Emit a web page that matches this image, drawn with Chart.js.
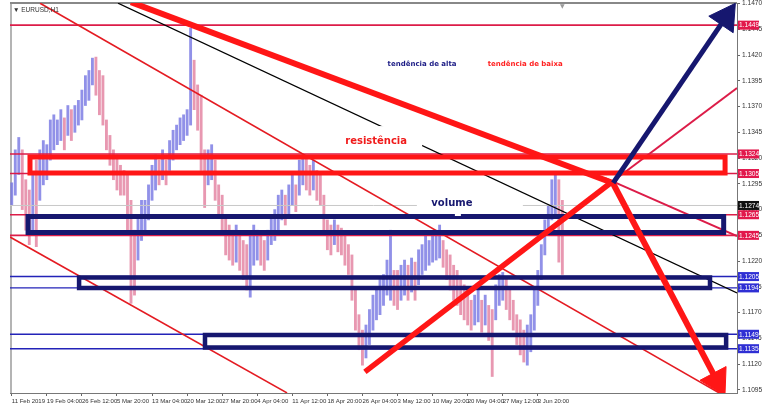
<!DOCTYPE html>
<html>
<head>
<meta charset="utf-8">
<script src="https://cdn.jsdelivr.net/npm/chart.js"></script>
<style>
  html, body { margin: 0; padding: 0; background: #fff; }
  #wrap { position: relative; width: 772px; height: 414px; }
</style>
</head>
<body>
<div id="wrap"><canvas id="chart"></canvas></div>
<script>
// x axis: one slot per ~half trading day, a date label every 10 slots
const xTickIdx = [0, 10, 20, 30, 40, 50, 60, 70, 80, 90, 100, 110, 120, 130, 140, 150];
const xLabels = ['11 Feb 2019', '19 Feb 04:00', '26 Feb 12:00', '5 Mar 20:00', '13 Mar 04:00',
  '20 Mar 12:00', '27 Mar 20:00', '4 Apr 04:00', '11 Apr 12:00', '18 Apr 20:00', '26 Apr 04:00',
  '3 May 12:00', '10 May 20:00', '20 May 04:00', '27 May 12:00', '3 Jun 20:00'];
const yTicks = [1.1095, 1.1120, 1.1145, 1.1170, 1.1195, 1.1220, 1.1245, 1.1270, 1.1295,
  1.1320, 1.1345, 1.1370, 1.1395, 1.1420, 1.1445, 1.1470];

// EURUSD H1, high / low per slot
const highs = [1.1296, 1.1328, 1.1340, 1.1328, 1.1299, 1.1289, 1.1304, 1.1318, 1.1328, 1.1337,
  1.1333, 1.1357, 1.1362, 1.1357, 1.1367, 1.1359, 1.1371, 1.1367, 1.1371, 1.1376,
  1.1386, 1.1400, 1.1405, 1.1417, 1.1418, 1.1405, 1.1400, 1.1357, 1.1342, 1.1328,
  1.1323, 1.1313, 1.1308, 1.1304, 1.1279, 1.1250, 1.1265, 1.1279, 1.1279, 1.1294,
  1.1313, 1.1323, 1.1318, 1.1328, 1.1318, 1.1337, 1.1347, 1.1352, 1.1359, 1.1362,
  1.1367, 1.1446, 1.1415, 1.1391, 1.1381, 1.1328, 1.1328, 1.1333, 1.1318, 1.1294,
  1.1284, 1.1265, 1.1255, 1.1250, 1.1255, 1.1245, 1.1240, 1.1236, 1.1245, 1.1255,
  1.1250, 1.1245, 1.1240, 1.1250, 1.1265, 1.1270, 1.1284, 1.1289, 1.1284, 1.1294,
  1.1304, 1.1294, 1.1318, 1.1323, 1.1321, 1.1313, 1.1318, 1.1308, 1.1304, 1.1284,
  1.1260, 1.1255, 1.1260, 1.1255, 1.1252, 1.1245, 1.1236, 1.1226, 1.1192, 1.1168,
  1.1153, 1.1158, 1.1173, 1.1187, 1.1192, 1.1202, 1.1207, 1.1221, 1.1250, 1.1211,
  1.1211, 1.1216, 1.1221, 1.1216, 1.1223, 1.1219, 1.1231, 1.1236, 1.1245, 1.1240,
  1.1245, 1.1250, 1.1255, 1.1240, 1.1231, 1.1226, 1.1216, 1.1211, 1.1202, 1.1197,
  1.1192, 1.1182, 1.1187, 1.1192, 1.1182, 1.1187, 1.1177, 1.1173, 1.1197, 1.1207,
  1.1209, 1.1203, 1.1192, 1.1182, 1.1168, 1.1163, 1.1153, 1.1158, 1.1168, 1.1192,
  1.1211, 1.1236, 1.1260, 1.1274, 1.1299, 1.1306, 1.1299, 1.1279];
const lows = [1.1274, 1.1284, 1.1304, 1.1270, 1.1250, 1.1236, 1.1250, 1.1234, 1.1279, 1.1294,
  1.1299, 1.1318, 1.1328, 1.1333, 1.1337, 1.1328, 1.1342, 1.1337, 1.1345, 1.1352,
  1.1357, 1.1371, 1.1376, 1.1391, 1.1381, 1.1362, 1.1352, 1.1328, 1.1313, 1.1299,
  1.1289, 1.1284, 1.1284, 1.1250, 1.1179, 1.1187, 1.1221, 1.1240, 1.1245, 1.1260,
  1.1279, 1.1289, 1.1294, 1.1299, 1.1294, 1.1308, 1.1318, 1.1328, 1.1333, 1.1337,
  1.1342, 1.1352, 1.1367, 1.1347, 1.1308, 1.1272, 1.1294, 1.1299, 1.1279, 1.1265,
  1.1245, 1.1226, 1.1221, 1.1216, 1.1219, 1.1211, 1.1202, 1.1192, 1.1185, 1.1216,
  1.1221, 1.1216, 1.1211, 1.1221, 1.1236, 1.1240, 1.1250, 1.1260, 1.1255, 1.1265,
  1.1274, 1.1268, 1.1284, 1.1294, 1.1289, 1.1284, 1.1289, 1.1279, 1.1274, 1.1245,
  1.1231, 1.1226, 1.1236, 1.1229, 1.1226, 1.1216, 1.1207, 1.1182, 1.1153, 1.1134,
  1.1119, 1.1126, 1.1139, 1.1153, 1.1163, 1.1168, 1.1177, 1.1187, 1.1182, 1.1177,
  1.1173, 1.1182, 1.1187, 1.1182, 1.1190, 1.1182, 1.1197, 1.1207, 1.1211, 1.1216,
  1.1219, 1.1221, 1.1223, 1.1214, 1.1202, 1.1192, 1.1182, 1.1177, 1.1168, 1.1163,
  1.1158, 1.1153, 1.1158, 1.1161, 1.1151, 1.1158, 1.1143, 1.1108, 1.1163, 1.1177,
  1.1182, 1.1173, 1.1163, 1.1153, 1.1139, 1.1129, 1.1122, 1.1119, 1.1132, 1.1153,
  1.1177, 1.1202, 1.1226, 1.1245, 1.1260, 1.1265, 1.1219, 1.1207];

// horizontal levels and last price
const redLevels = [1.1449, 1.1324, 1.1305, 1.1265, 1.1245];
const blueLevels = [1.1205, 1.1194, 1.1149, 1.1135];
const lastPrice = 1.1274;

// zones: [fromSlot, toSlot, top, bottom]
const resistZone = [5.2, 203.4, 1.1321, 1.13055];
const volumeZone = [4.65, 203.0, 1.12633, 1.12477];
const zoneMid = [19.2, 199.1, 1.1204, 1.1194];
const zoneLow = [55.1, 203.7, 1.11483, 1.11362];

// trend lines: [slot1, price1, slot2, price2]
const channelLow = [-0.5, 1.12434, 78.5, 1.10921];
const channelHigh = [8.07, 1.14703, 201.7, 1.10921];
const blackTrend = [30.3, 1.14703, 206.8, 1.11891];
const downTrend = [34.0, 1.14713, 171.2, 1.1296];
const downArrow = [171.2, 1.1297, 201.1, 1.11037];
const upTrend = [100.7, 1.11125, 171.2, 1.1297];
const upTrendExt = [171.2, 1.1297, 206.8, 1.13879];
const upArrow = [171.5, 1.1296, 203.6, 1.14565];
const fadeLine = [169.2, 1.13006, 206.8, 1.12444];

const X_MIN = -0.5, X_MAX = 206.8;
const Y_MIN = 1.10920, Y_MAX = 1.14705;

const RED = '#ff1616';
const CRIMSON = '#dc1c48';
const NAVY = '#16176f';
const BLUE = '#2323b8';

const mids = highs.map((h, i) => (h + lows[i]) / 2);
const candleColors = mids.map((m, i) => (i === 0 || m >= mids[i - 1]) ? 'rgba(118,118,226,0.8)' : 'rgba(226,126,158,0.8)');

function line(seg, color, width, order) {
  return {
    type: 'line',
    data: [{ x: seg[0], y: seg[1] }, { x: seg[2], y: seg[3] }],
    borderColor: color, borderWidth: width, pointRadius: 0,
    fill: false, tension: 0, order: order, borderCapStyle: 'butt'
  };
}

function level(p, color, width, order) {
  return line([X_MIN, p, X_MAX, p], color, width, order);
}

function zone(z, color, width, order) {
  const [a, b, t, btm] = z;
  return {
    type: 'line',
    data: [{ x: a, y: t }, { x: b, y: t }, { x: b, y: btm }, { x: a, y: btm }, { x: a, y: t }, { x: b, y: t }],
    borderColor: color, borderWidth: width, pointRadius: 0,
    fill: false, tension: 0, order: order, borderJoinStyle: 'miter'
  };
}

// arrow head = rotated triangle on the last point
function headAngle(ctx) {
  const pts = ctx.dataset.data;
  const i = ctx.dataIndex;
  if (i === 0) return 0;
  const { x, y } = ctx.chart.scales;
  const dx = x.getPixelForValue(pts[i].x) - x.getPixelForValue(pts[i - 1].x);
  const dy = y.getPixelForValue(pts[i].y) - y.getPixelForValue(pts[i - 1].y);
  return Math.atan2(dx, -dy) * 180 / Math.PI;
}

function arrow(seg, color, width, order) {
  return Object.assign(line(seg, color, width, order), {
    pointStyle: 'triangle',
    pointRadius: ctx => ctx.dataIndex === 1 ? 17 : 0,
    pointRotation: headAngle,
    pointBackgroundColor: color,
    pointBorderColor: color,
    pointBorderWidth: 1
  });
}

const datasets = [
  {
    type: 'bar',
    data: highs.map((h, i) => ({ x: i, y: [lows[i], h] })),
    backgroundColor: candleColors,
    barThickness: 2.2,
    grouped: false,
    order: 100
  },
  level(lastPrice, '#c8c8c8', 1, 95),
  ...redLevels.map(p => level(p, CRIMSON, 1.6, 90)),
  ...blueLevels.map(p => level(p, BLUE, 1.4, 90)),
  line(channelLow, '#e41b22', 1.6, 80),
  line(channelHigh, '#e41b22', 1.6, 80),
  line(blackTrend, '#000', 1.3, 80),
  line(fadeLine, CRIMSON, 2, 78),
  line(upTrendExt, CRIMSON, 2, 78),
  zone(resistZone, RED, 5, 60),
  zone(volumeZone, NAVY, 5, 60),
  zone(zoneMid, NAVY, 4.5, 60),
  zone(zoneLow, NAVY, 4.5, 60),
  line(downTrend, RED, 6, 40),
  line(upTrend, RED, 5.5, 40),
  arrow(downArrow, RED, 6, 35),
  arrow(upArrow, NAVY, 5, 30)
];

const X_FONT = { family: 'Liberation Sans', size: 6 };
const Y_FONT = { family: 'Liberation Sans', size: 6.6 };

const frame = {
  id: 'frame',
  beforeDatasetsDraw(chart) {
    const { ctx, chartArea: a } = chart;
    ctx.save();
    ctx.strokeStyle = '#b4b4b4';
    ctx.lineWidth = 2;
    ctx.beginPath();
    ctx.moveTo(a.left + 1, a.bottom);
    ctx.lineTo(a.left + 1, a.top);
    ctx.stroke();
    ctx.strokeStyle = '#888';
    ctx.beginPath();
    ctx.moveTo(a.left, a.top);
    ctx.lineTo(a.right, a.top);
    ctx.stroke();
    ctx.restore();
  }
};

const notes = {
  id: 'notes',
  afterDatasetsDraw(chart) {
    const { ctx, chartArea: a, scales: { x, y } } = chart;
    ctx.save();
    const rx = x.getPixelForValue(103.9), ry = y.getPixelForValue(1.13365);
    const vx = x.getPixelForValue(125.5), vy = y.getPixelForValue(1.12764);
    ctx.fillStyle = '#fff';
    ctx.fillRect(rx - 38, ry - 15, 84, 25);
    ctx.fillRect(vx - 35, vy - 9, 106, 18);
    ctx.fillRect(vx + 3, vy + 10, 6, 3);

    ctx.textAlign = 'center';
    ctx.textBaseline = 'middle';
    ctx.font = 'bold 10px "DejaVu Sans"';
    ctx.fillStyle = '#f01a1a';
    ctx.fillText('resistência', rx, ry);
    ctx.fillStyle = NAVY;
    ctx.fillText('volume', vx, vy);

    const ty = y.getPixelForValue(1.14112);
    ctx.font = 'bold 7px "DejaVu Sans"';
    ctx.fillStyle = '#1b1b85';
    ctx.fillText('tendência de alta', x.getPixelForValue(117.0), ty);
    ctx.fillStyle = '#ff2222';
    ctx.fillText('tendência de baixa', x.getPixelForValue(146.4), ty);

    ctx.textAlign = 'left';
    ctx.font = '6.5px "Liberation Sans"';
    ctx.fillStyle = '#333';
    ctx.fillText('▼ EURUSD,H1', a.left + 3, a.top + 7);
    ctx.fillStyle = '#999';
    ctx.font = '6px "DejaVu Sans"';
    ctx.fillText('▼', x.getPixelForValue(156.3), a.top + 3);
    ctx.restore();
  }
};

const priceTags = {
  id: 'priceTags',
  afterDraw(chart) {
    const { ctx, chartArea: a, scales: { y } } = chart;
    const tags = [
      ...redLevels.map(v => [v, '#e2184c']),
      ...blueLevels.map(v => [v, '#2f2fd4']),
      [lastPrice, '#111']
    ];
    ctx.save();
    ctx.font = '6.6px "Liberation Sans"';
    ctx.textBaseline = 'middle';
    ctx.textAlign = 'left';
    tags.forEach(([v, c]) => {
      const py = y.getPixelForValue(v);
      ctx.fillStyle = c;
      ctx.fillRect(a.right + 1, py - 4.5, 21, 9);
      ctx.fillStyle = '#fff';
      ctx.fillText(v.toFixed(4), a.right + 2, py + 0.5);
    });
    ctx.restore();
  }
};

new Chart(document.getElementById('chart'), {
  type: 'bar',
  data: { datasets },
  options: {
    responsive: true,
    maintainAspectRatio: false,
    animation: false,
    events: [],
    layout: { autoPadding: false, padding: { left: 10, top: 3, right: 0, bottom: 0 } },
    plugins: { legend: { display: false }, tooltip: { enabled: false } },
    scales: {
      x: {
        type: 'linear', min: X_MIN, max: X_MAX, offset: false,
        afterBuildTicks: s => { s.ticks = xTickIdx.map(v => ({ value: v })); },
        afterFit: s => { s.height = 21; s.paddingLeft = 0; s.paddingRight = 0; },
        grid: { drawOnChartArea: false, tickLength: 3, tickColor: '#666', offset: false },
        border: { display: true, color: '#777', width: 1 },
        ticks: {
          callback: (v, i) => xLabels[i], align: 'start', maxRotation: 0, autoSkip: false,
          font: X_FONT, color: '#333', padding: 2
        }
      },
      y: {
        position: 'right', min: Y_MIN, max: Y_MAX,
        afterBuildTicks: s => { s.ticks = yTicks.map(v => ({ value: v })); },
        afterFit: s => { s.width = 35; s.paddingTop = 0; s.paddingBottom = 0; },
        grid: { drawOnChartArea: false, tickLength: 3, tickColor: '#666' },
        border: { display: true, color: '#777', width: 1 },
        ticks: {
          callback: v => v.toFixed(4), autoSkip: false,
          font: Y_FONT, color: '#333', padding: 2
        }
      }
    }
  },
  plugins: [frame, notes, priceTags]
});
</script>
</body>
</html>
